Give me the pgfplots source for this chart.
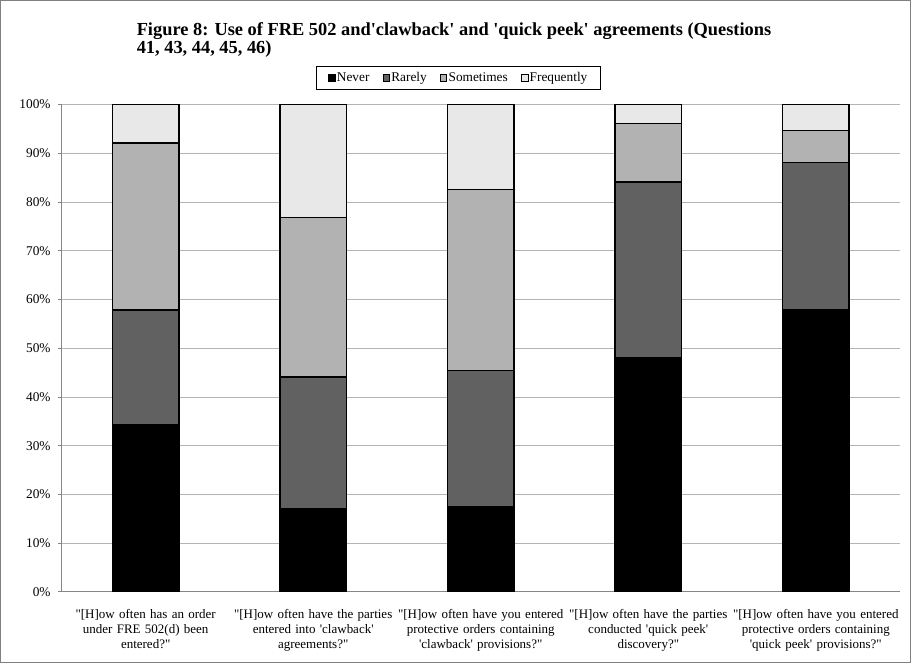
\documentclass[border=0pt]{standalone}
\usepackage{fontspec}
\setmainfont{Liberation Serif}[Ligatures=TeXOff]
\usepackage{pgfplots}
\pgfplotsset{compat=1.18}
\usepackage{pgfplotstable}

\definecolor{cNever}{HTML}{000000}
\definecolor{cRarely}{HTML}{616161}
\definecolor{cSometimes}{HTML}{B2B2B2}
\definecolor{cFrequently}{HTML}{E8E8E8}
\definecolor{axisgray}{HTML}{868686}
\definecolor{gridgray}{HTML}{B4B4B4}

% share of responses (percent), one row per question
\pgfplotstableread{
x never rarely sometimes frequently
0 34.3 23.6 34.2  7.9
1 17.1 27.0 32.7 23.2
2 17.5 27.9 37.2 17.4
3 48.1 36.0 12.0  3.9
4 58.0 30.1  6.6  5.3
}\survey

\begin{document}
\begin{tikzpicture}
\begin{axis}[
  scale only axis,
  width=628.9pt, height=365.8pt,
  ybar stacked, bar width=50pt,
  xmin=-0.5, xmax=4.5, ymin=0, ymax=100,
  axis x line*=bottom, axis y line*=left,
  axis line style={axisgray, line width=0.75pt},
  every tick/.style={axisgray, line width=0.75pt},
  tick align=outside,
  major tick length=3pt, minor tick length=3pt,
  xtick={0,1,2,3,4},
  xtick style={draw=none},
  minor xtick={-0.5,0.5,1.5,2.5,3.5,4.5},
  xticklabels={
    {"[H]ow often has an order\\under FRE 502(d) been\\entered?"},
    {"[H]ow often have the parties\\entered into 'clawback'\\agreements?"},
    {"[H]ow often have you entered\\protective orders containing\\'clawback' provisions?"},
    {"[H]ow often have the parties\\conducted 'quick peek'\\discovery?"},
    {"[H]ow often have you entered\\protective orders containing\\'quick peek' provisions?"}},
  xticklabel style={text width=130pt, align=center, font=\fontsize{9.75}{11.25}\selectfont, yshift=-6.5pt},
  ytick={0,10,...,100},
  yticklabels={0\%,10\%,20\%,30\%,40\%,50\%,60\%,70\%,80\%,90\%,100\%},
  yticklabel style={font=\fontsize{10}{12}\selectfont, xshift=-2pt},
  ymajorgrids,
  major grid style={gridgray, line width=0.75pt},
  legend columns=-1,
  legend style={at={(0.4735,1)}, anchor=south, yshift=11.25pt,
    draw=black, line width=0.5pt, font=\fontsize{10}{12}\selectfont,
    inner xsep=9pt, inner ysep=2.5pt,
    nodes={inner xsep=1pt},
    /tikz/every even column/.append style={column sep=9pt}},
  legend image code/.code={\draw[#1, draw=black, line width=0.6pt] (0pt,-2.4pt) rectangle (4.8pt,2.4pt);},
  every axis plot/.append style={draw=black, line width=1.1pt},
]
\addplot[fill=cNever] table[x=x, y=never] {\survey};
\addplot[fill=cRarely] table[x=x, y=rarely] {\survey};
\addplot[fill=cSometimes] table[x=x, y=sometimes] {\survey};
\addplot[fill=cFrequently] table[x=x, y=frequently] {\survey};
\legend{Never,Rarely,Sometimes,Frequently}
\end{axis}
\node[anchor=north west, align=left, inner sep=0pt,
      font=\bfseries\fontsize{13.8}{13.6}\selectfont]
  at (56pt, 428pt)
  {Figure 8: Use of FRE 502 and'clawback' and 'quick peek' agreements (Questions\\41, 43, 44, 45, 46)};
\draw[gray, line width=0.75pt] (-46.1pt,-53.25pt) rectangle (637.1pt,444pt);
\end{tikzpicture}
\end{document}
